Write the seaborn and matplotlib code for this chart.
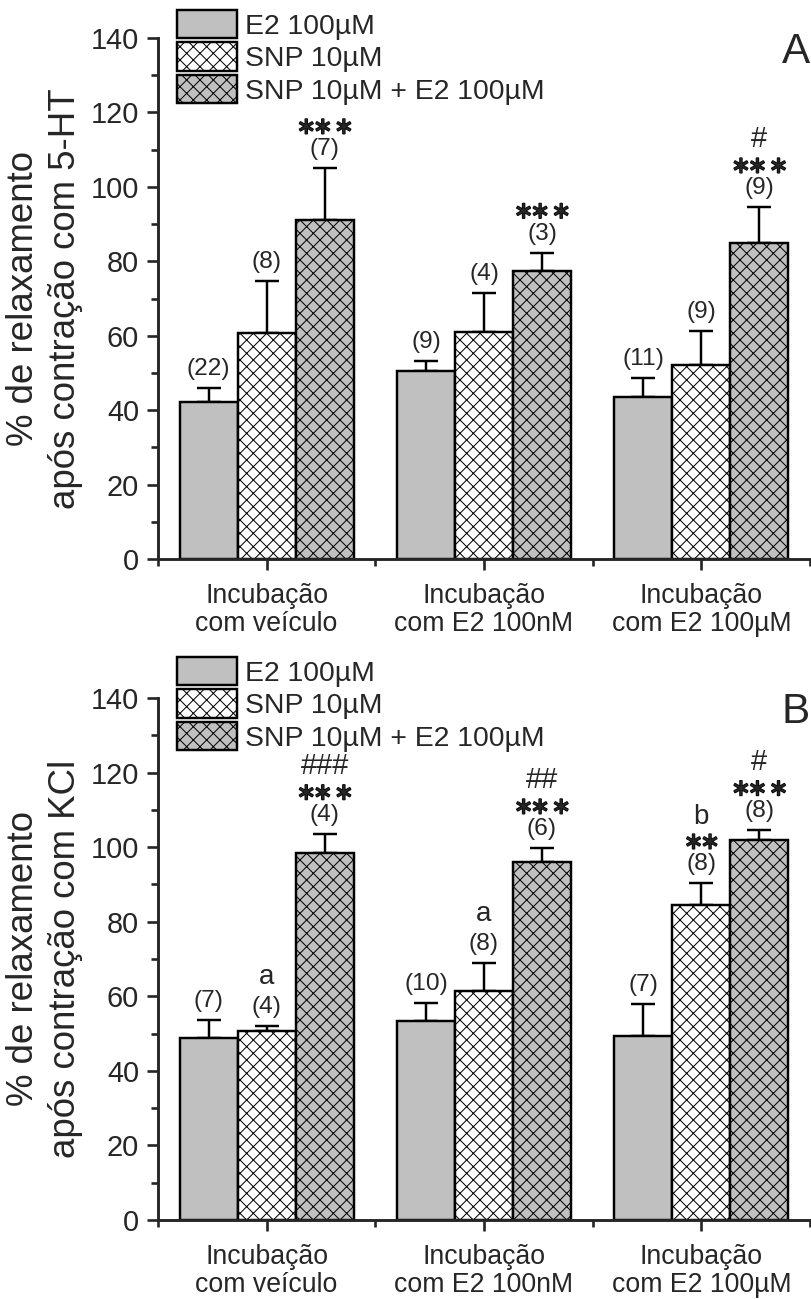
import numpy as np
import pandas as pd
import matplotlib
matplotlib.use("Agg")
import matplotlib.pyplot as plt
import matplotlib.patheffects as pe
from matplotlib.patches import Patch
from matplotlib.ticker import MultipleLocator, FixedLocator
import seaborn as sns

# ---- data ---------------------------------------------------------------
groups = ["Incubação\ncom veículo", "Incubação\ncom E2 100nM", "Incubação\ncom E2 100µM"]
treatments = ["E2 100µM", "SNP 10µM", "SNP 10µM + E2 100µM"]

# Panel A: relaxation after 5-HT contraction (mean, SEM, n)
a_e2 = [42.2, 50.5, 43.6]
a_snp = [60.8, 61.0, 52.0]
a_combo = [91.0, 77.4, 85.0]
a_e2_sem = [3.8, 2.6, 5.0]
a_snp_sem = [14.0, 10.5, 9.2]
a_combo_sem = [14.0, 4.9, 9.5]
a_e2_n = ["(22)", "(9)", "(11)"]
a_snp_n = ["(8)", "(4)", "(9)"]
a_combo_n = ["(7)", "(3)", "(9)"]
a_snp_marks = [[], [], []]
a_combo_marks = [["***"], ["***"], ["***", "#"]]

# Panel B: relaxation after KCl contraction (mean, SEM, n)
b_e2 = [48.8, 53.4, 49.3]
b_snp = [50.7, 61.5, 84.4]
b_combo = [98.4, 96.0, 101.9]
b_e2_sem = [4.8, 4.8, 8.7]
b_snp_sem = [1.3, 7.5, 5.9]
b_combo_sem = [5.1, 3.7, 2.7]
b_e2_n = ["(7)", "(10)", "(7)"]
b_snp_n = ["(4)", "(8)", "(8)"]
b_combo_n = ["(4)", "(6)", "(8)"]
b_snp_marks = [["a"], ["a"], ["**", "b"]]
b_combo_marks = [["***", "###"], ["***", "##"], ["***", "#"]]

ylabels = ["% de relaxamento\napós contração com 5-HT",
           "% de relaxamento\napós contração com KCl"]
panel_letters = ["A", "B"]

# ---- style --------------------------------------------------------------
sns.set_style("ticks")
plt.rcParams["font.family"] = ["Liberation Sans", "DejaVu Sans"]
plt.rcParams["mathtext.fontset"] = "dejavusans"
plt.rcParams["hatch.linewidth"] = 0.9

DPI = 80
W, H = 811, 1299
light_gray = "#c0c0c0"
fills = [light_gray, "#ffffff", light_gray]
hatches = ["", "xx", "xx"]
EDGE_LW = 2.2

fig = plt.figure(figsize=(W / DPI, H / DPI), dpi=DPI)
ax_a = fig.add_axes([158 / W, 1 - 559 / H, 652 / W, 521 / H])
ax_b = fig.add_axes([158 / W, 1 - 1220 / H, 652 / W, 522 / H])


def px(v):
    return v * 72 / DPI


def star_text(s):
    # asterisks set as centred math operators, packed closely
    return "$" + r"\!\!".join([r"\ast"] * len(s)) + "$"


def draw_panel(ax, means, sems, ns, marks, ylabel, letter, legend_gap):
    df = pd.DataFrame({
        "group": groups * 3,
        "treatment": np.repeat(treatments, len(groups)),
        "value": np.concatenate(means),
    })
    sns.barplot(data=df, x="group", y="value", hue="treatment",
                order=groups, hue_order=treatments, palette=fills,
                saturation=1, errorbar=None, edgecolor="black",
                linewidth=EDGE_LW, legend=False, ax=ax, zorder=2)

    bar_containers = list(ax.containers)
    for ci, cont in enumerate(bar_containers):
        for bi, bar in enumerate(cont):
            bar.set_hatch(hatches[ci])
            xc = bar.get_x() + bar.get_width() / 2
            top = bar.get_height()
            err = sems[ci][bi]
            ax.errorbar(xc, top, yerr=[[0], [err]], fmt="none", ecolor="black",
                        elinewidth=2.2, capsize=px(12), capthick=2.2, zorder=1)
            stack = [ns[ci][bi]] + list(marks[ci][bi])
            if len(stack) == 2 and stack[1] in ("a", "b"):
                offsets = [19, 49]
            elif len(stack) == 3 and stack[2] in ("a", "b"):
                offsets = [19, 41, 66]
            else:
                offsets = [19, 41, 68]
            for k, lab in enumerate(stack):
                kw = dict(textcoords="offset points", ha="center", va="center",
                          annotation_clip=False)
                if set(lab) == {"*"}:
                    ax.annotate(star_text(lab), (xc, top + err),
                                xytext=(0, px(offsets[k])), fontsize=21,
                                path_effects=[pe.withStroke(linewidth=1.4,
                                                            foreground="black")],
                                **kw)
                elif lab.startswith("("):
                    ax.annotate(lab, (xc, top + err), xytext=(0, px(offsets[k])),
                                fontsize=22, **kw)
                elif lab.startswith("#"):
                    ax.annotate(lab, (xc, top + err), xytext=(0, px(offsets[k])),
                                fontsize=26, **kw)
                else:
                    ax.annotate(lab, (xc, top + err), xytext=(0, px(offsets[k])),
                                fontsize=25, **kw)

    ax.set_xlim(-0.5, 2.5)
    ax.set_ylim(0, 140)
    ax.yaxis.set_major_locator(MultipleLocator(20))
    ax.yaxis.set_minor_locator(MultipleLocator(10))
    ax.xaxis.set_minor_locator(FixedLocator([-0.5, 0.5, 1.5, 2.5]))
    sns.despine(ax=ax)
    for side in ("left", "bottom"):
        ax.spines[side].set_linewidth(2.6)
    ax.tick_params(axis="both", which="major", length=px(11), width=2.4,
                   direction="out")
    ax.tick_params(axis="both", which="minor", length=px(7), width=2.4,
                   direction="out")
    ax.tick_params(axis="y", which="major", labelsize=26, pad=px(8))
    ax.tick_params(axis="x", which="major", labelsize=24, pad=px(13))
    for t in ax.get_xticklabels():
        t.set_linespacing(1.12)
    ax.set_xlabel("")
    ax.set_ylabel(ylabel, fontsize=33, linespacing=1.25, labelpad=px(8))

    handles = [Patch(facecolor=fills[i], edgecolor="black", hatch=hatches[i],
                     linewidth=EDGE_LW, label=treatments[i]) for i in range(3)]
    ax.legend(handles=handles, loc="upper left",
              bbox_to_anchor=(19 / 652, 1 + legend_gap / 521), frameon=False,
              fontsize=25.5, handlelength=2.1, handleheight=1.15,
              labelspacing=0.1, handletextpad=0.3, borderpad=0,
              borderaxespad=0)
    ax.text(1.0, 1 - 14 / 521, letter, transform=ax.transAxes, ha="right",
            va="center", fontsize=38)


draw_panel(ax_a, [a_e2, a_snp, a_combo], [a_e2_sem, a_snp_sem, a_combo_sem],
           [a_e2_n, a_snp_n, a_combo_n], [[[], [], []], a_snp_marks, a_combo_marks],
           ylabels[0], panel_letters[0], 28)
draw_panel(ax_b, [b_e2, b_snp, b_combo], [b_e2_sem, b_snp_sem, b_combo_sem],
           [b_e2_n, b_snp_n, b_combo_n], [[[], [], []], b_snp_marks, b_combo_marks],
           ylabels[1], panel_letters[1], 41)

fig.savefig("out.png", dpi=DPI)
